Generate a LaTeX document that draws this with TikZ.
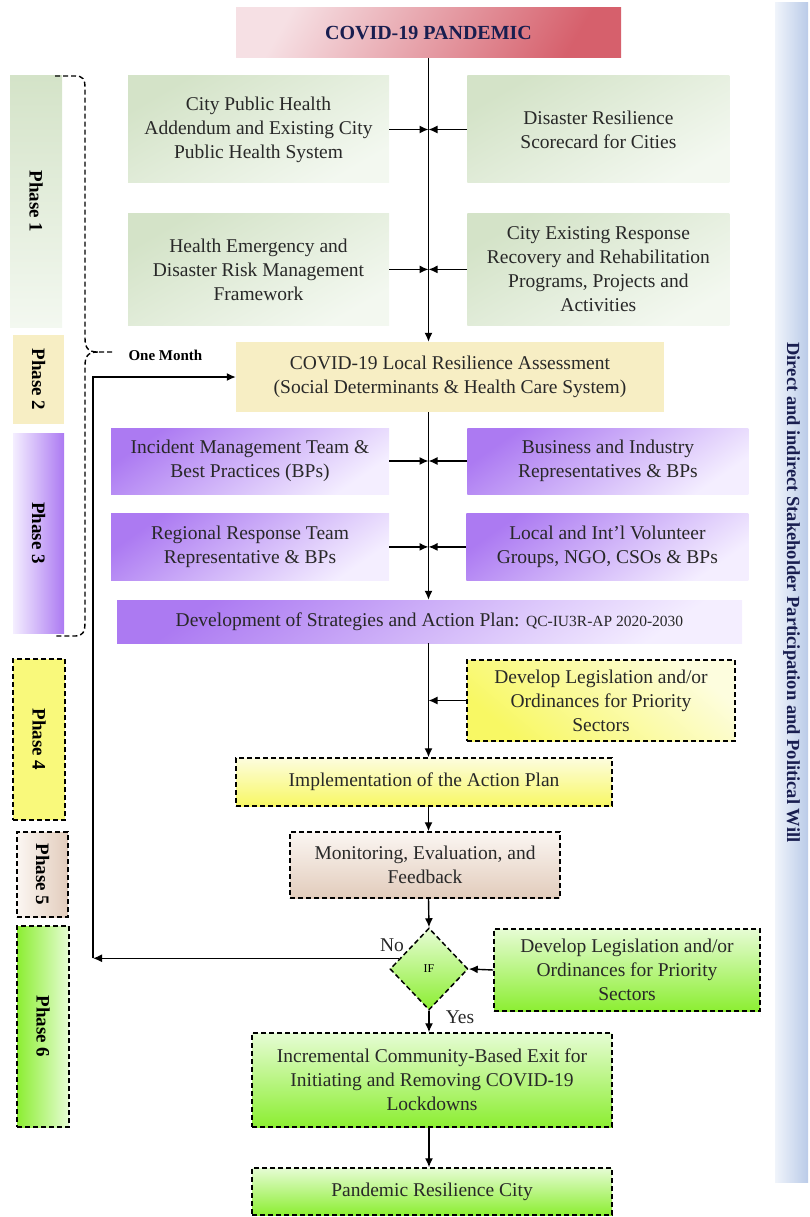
\documentclass[tikz,border=0pt]{standalone}
\usepackage{fontspec}
\setmainfont{Liberation Serif}
\usepackage{xcolor}
\usetikzlibrary{shapes.geometric,arrows.meta,positioning,calc}
\definecolor{pandemicred}{RGB}{214,96,108}
\definecolor{pandemicpink}{RGB}{246,224,228}
\definecolor{navytext}{RGB}{25,30,80}
\definecolor{sagegreen}{RGB}{212,227,200}
\definecolor{sagelight}{RGB}{243,248,240}
\definecolor{paleamber}{RGB}{247,238,196}
\definecolor{violetdark}{RGB}{172,122,242}
\definecolor{violetlight}{RGB}{244,238,255}
\definecolor{brightyellow}{RGB}{248,248,100}
\definecolor{paleyellow}{RGB}{253,253,222}
\definecolor{peachdark}{RGB}{226,204,188}
\definecolor{peachlight}{RGB}{251,246,242}
\definecolor{limegreen}{RGB}{140,238,50}
\definecolor{limelight}{RGB}{230,252,212}
\definecolor{steelblue}{RGB}{186,203,232}
\definecolor{steellight}{RGB}{240,244,251}
\definecolor{darkgray}{RGB}{40,40,40}
\newcommand{\bodyfont}{\fontsize{19.5}{24}\selectfont}
\tikzset{
  base/.style    ={rectangle, align=center, inner sep=2pt, text=darkgray, font=\bodyfont},
  dashbox/.style ={base, draw=black, line width=1.5pt, dash pattern=on 5pt off 3pt},
  redbox/.style  ={base, left color=pandemicpink, right color=pandemicred, shading angle=60,
                   text=navytext, font=\fontsize{20}{24}\selectfont\bfseries},
  gbox/.style    ={base, top color=sagegreen, bottom color=sagelight, shading angle=30},
  abox/.style    ={base, fill=paleamber},
  vbox/.style    ={base, top color=violetdark, bottom color=violetlight, shading angle=35},
  ybox/.style    ={dashbox, top color=paleyellow, bottom color=brightyellow},
  pchbox/.style  ={dashbox, top color=peachlight, bottom color=peachdark},
  limebox/.style ={dashbox, top color=limelight, bottom color=limegreen},
  phasebox/.style={rectangle, inner sep=0pt, text=black, font=\fontsize{19}{20}\selectfont\bfseries},
  flow/.style    ={-{Latex[length=9pt,width=8pt]}, line width=1.4pt, draw=black},
  bracket/.style ={line width=1.4pt, dash pattern=on 5pt off 3pt, draw=black},
  lbl/.style     ={font=\bodyfont, text=darkgray, inner sep=1pt}
}
\begin{document}
\begin{tikzpicture}[x=1pt, y=-1pt]
\useasboundingbox (0,0) rectangle (810,1217);
% phases on the left
\node[phasebox, top color=sagegreen, bottom color=sagelight, minimum width=52, minimum height=251]
  (phaseone) at (36,201.5) {\rotatebox{-90}{Phase 1}};
\node[phasebox, fill=paleamber, minimum width=51, minimum height=89]
  (phasetwo) at (38.5,379.5) {\rotatebox{-90}{Phase 2}};
\node[phasebox, left color=violetlight, right color=violetdark, minimum width=51, minimum height=200]
  (phasethree) at (38.5,533) {\rotatebox{-90}{Phase 3}};
\node[phasebox, draw, line width=1.5pt, dash pattern=on 5pt off 3pt, fill=brightyellow!85,
  minimum width=52, minimum height=161] (phasefour) at (39,739.5) {\rotatebox{-90}{Phase 4}};
\node[phasebox, draw, line width=1.5pt, dash pattern=on 5pt off 3pt, left color=peachlight,
  right color=peachdark, minimum width=51, minimum height=85] (phasefive) at (42.5,874.5) {\rotatebox{-90}{Phase 5}};
\node[phasebox, draw, line width=1.5pt, dash pattern=on 5pt off 3pt, left color=limegreen,
  right color=limelight, minimum width=52, minimum height=201] (phasesix) at (43,1026.5) {\rotatebox{-90}{Phase 6}};
% stakeholder bar on the right
\node[rectangle, inner sep=0pt, left color=steellight, right color=steelblue, minimum width=33,
  minimum height=1179, text=navytext, font=\fontsize{18.5}{20}\selectfont\bfseries]
  (stakebar) at (791.5,592.5) {\rotatebox{-90}{Direct and indirect Stakeholder Participation and Political Will}};
% one month bracket
\draw[bracket] (55,76) -- (75,76) .. controls (83,76) and (85,79) .. (85,88) -- (85,338)
  .. controls (85,348) and (88,352) .. (98,352) -- (115,352);
\draw[bracket] (98,352) .. controls (88,352) and (85,356) .. (85,366) -- (85,622)
  .. controls (85,632) and (83,636) .. (75,636) -- (55,636);
\node[font=\fontsize{15}{16}\selectfont\bfseries, anchor=west] (onemonth) at (125,355) {One Month};
% main column
\node[redbox, minimum width=385, minimum height=50] (pandemic) at (428.5,33) {COVID-19 PANDEMIC};
\node[gbox, minimum width=261, minimum height=107] (cityhealth) at (258.5,129.5)
  {City Public Health\\Addendum and Existing City\\Public Health System};
\node[gbox, minimum width=262, minimum height=107, right=78pt of cityhealth] (scorecard)
  {Disaster Resilience\\Scorecard for Cities};
\node[gbox, minimum width=261, minimum height=112, below=30pt of cityhealth] (hedrm)
  {Health Emergency and\\Disaster Risk Management\\Framework};
\node[gbox, minimum width=262, minimum height=112, below=30pt of scorecard] (programs)
  {City Existing Response\\Recovery and Rehabilitation\\Programs, Projects and\\Activities};
\node[abox, minimum width=428, minimum height=70] (assess) at (450,377)
  {COVID-19 Local Resilience Assessment\\(Social Determinants \& Health Care System)};
\node[vbox, minimum width=278, minimum height=66] (imt) at (250,461)
  {Incident Management Team \&\\Best Practices (BPs)};
\node[vbox, minimum width=281, minimum height=66, right=78pt of imt] (business)
  {Business and Industry\\Representatives \& BPs};
\node[vbox, minimum width=278, minimum height=67, below=19pt of imt] (rrt)
  {Regional Response Team\\Representative \& BPs};
\node[vbox, minimum width=282, minimum height=67, right=77pt of rrt] (volunteer)
  {Local and Int'l Volunteer\\Groups, NGO, CSOs \& BPs};
\node[vbox, minimum width=625, minimum height=43] (strategy) at (429.5,621.5)
  {Development of Strategies and Action Plan: {\fontsize{15.5}{16}\selectfont QC-IU3R-AP 2020-2030}};
\node[ybox, top color=paleyellow, bottom color=brightyellow, shading angle=-40, minimum width=268,
  minimum height=81] (legisone) at (601,700.5)
  {Develop Legislation and/or\\Ordinances for Priority\\Sectors};
\node[ybox, minimum width=376, minimum height=48] (implement) at (424,782)
  {Implementation of the Action Plan};
\node[pchbox, minimum width=270, minimum height=66] (monitor) at (425,865)
  {Monitoring, Evaluation, and\\Feedback};
\node[diamond, draw=black, line width=1.5pt, dash pattern=on 5pt off 3pt, top color=limelight,
  bottom color=limegreen, minimum width=78, minimum height=82, inner sep=0pt,
  font=\fontsize{12}{12}\selectfont] (ifnode) at (429,969) {IF};
\node[limebox, minimum width=266, minimum height=82] (legistwo) at (627,970)
  {Develop Legislation and/or\\Ordinances for Priority\\Sectors};
\node[limebox, minimum width=360, minimum height=94] (exit) at (432,1080)
  {Incremental Community-Based Exit for\\Initiating and Removing COVID-19\\Lockdowns};
\node[limebox, minimum width=360, minimum height=47] (resilient) at (432,1191.5)
  {Pandemic Resilience City};
\node[lbl] (nolbl) at (392,945) {No};
\node[lbl] (yeslbl) at (460,1017) {Yes};
% connectors
\coordinate (spine) at (pandemic.south);
\coordinate (loopx) at (93,0);
\draw[flow] (pandemic.south) -- (spine |- assess.north);
\draw[flow] (cityhealth.east) -- (spine |- cityhealth.east);
\draw[flow] (scorecard.west) -- (spine |- scorecard.west);
\draw[flow] (hedrm.east) -- (spine |- hedrm.east);
\draw[flow] (programs.west) -- (spine |- programs.west);
\draw[flow] (spine |- assess.south) -- (spine |- strategy.north);
\draw[flow] (imt.east) -- (spine |- imt.east);
\draw[flow] (business.west) -- (spine |- business.west);
\draw[flow] (rrt.east) -- (spine |- rrt.east);
\draw[flow] (volunteer.west) -- (spine |- volunteer.west);
\draw[flow] (spine |- strategy.south) -- (spine |- implement.north);
\draw[flow] (legisone.west) -- (spine |- legisone.west);
\draw[flow] (spine |- implement.south) -- (spine |- monitor.north);
\draw[flow] (spine |- monitor.south) -- (ifnode.north);
\draw[flow] (legistwo.west) -- (ifnode.east);
\draw[flow] (ifnode.160) -- (loopx |- ifnode.160);
\draw[flow] (loopx |- ifnode.160) |- (assess.west);
\draw[flow] (ifnode.south) -- (exit.north -| ifnode.south);
\draw[flow] (exit.south -| ifnode.south) -- (resilient.north -| ifnode.south);
\end{tikzpicture}
\end{document}
